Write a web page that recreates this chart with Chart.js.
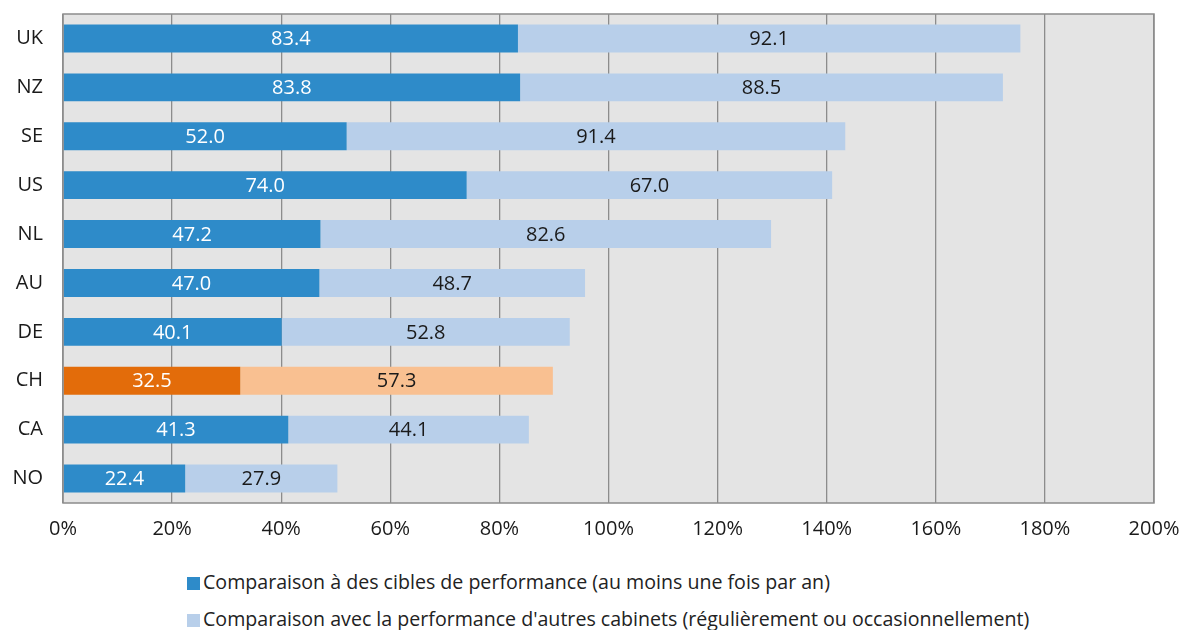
<!DOCTYPE html>
<html>
<head>
<meta charset="utf-8">
<script src="https://cdn.jsdelivr.net/npm/chart.js@4/dist/chart.umd.min.js"></script>
<style>
  body { margin: 0; background: #fff; font-family: "Open Sans", sans-serif; }
  #wrap { position: relative; width: 1182px; height: 560px; }
  #legend { position: absolute; left: 187px; top: 566px; font-size: 19.6px; color: #222; }
  .item { height: 37px; line-height: 32px; white-space: nowrap; }
  .box { display: inline-block; width: 13px; height: 13px; margin-right: 3px; vertical-align: -1px; }
</style>
</head>
<body>
<div id="wrap"><canvas id="chart"></canvas></div>
<div id="legend"></div>
<script>
// Données
const pays = ['UK', 'NZ', 'SE', 'US', 'NL', 'AU', 'DE', 'CH', 'CA', 'NO'];
const ciblesPerf = [83.4, 83.8, 52.0, 74.0, 47.2, 47.0, 40.1, 32.5, 41.3, 22.4];
const autresCabinets = [92.1, 88.5, 91.4, 67.0, 82.6, 48.7, 52.8, 57.3, 44.1, 27.9];
const serieNoms = [
    'Comparaison à des cibles de performance (au moins une fois par an)',
    "Comparaison avec la performance d'autres cabinets (régulièrement ou occasionnellement)"
];
const xTicks = [0, 20, 40, 60, 80, 100, 120, 140, 160, 180, 200];

const bleu = '#2e8bc9', bleuClair = '#b8cfea';
const orange = '#e36c0a', orangeClair = '#f9c091';

// couleurs par barre (CH en orange)
const couleurs1 = pays.map(p => p === 'CH' ? orange : bleu);
const couleurs2 = pays.map(p => p === 'CH' ? orangeClair : bleuClair);

// Fond gris + cadre
const fondPlugin = {
    id: 'fond',
    beforeDraw(chart) {
        const { ctx, chartArea: a } = chart;
        ctx.save();
        ctx.fillStyle = '#e4e4e4';
        ctx.fillRect(a.left, a.top, a.right - a.left, a.bottom - a.top);
        ctx.restore();
    },
    afterDatasetsDraw(chart) {
        const { ctx, chartArea: a } = chart;
        ctx.save();
        ctx.strokeStyle = '#8c8c8c';
        ctx.lineWidth = 1.5;
        ctx.strokeRect(a.left, a.top, a.right - a.left, a.bottom - a.top);
        ctx.restore();
    }
};

// Étiquettes de valeurs au centre des segments
const etiquettesPlugin = {
    id: 'etiquettes',
    afterDatasetsDraw(chart) {
        const ctx = chart.ctx;
        ctx.save();
        ctx.font = '20px "Open Sans"';
        ctx.textAlign = 'center';
        ctx.textBaseline = 'middle';
        chart.data.datasets.forEach((ds, i) => {
            const meta = chart.getDatasetMeta(i);
            ctx.fillStyle = i === 0 ? '#ffffff' : '#1a1a1a';
            meta.data.forEach((bar, j) => {
                const x = (bar.x + bar.base) / 2;
                ctx.fillText(ds.data[j].toFixed(1), x, bar.y + 1);
            });
        });
        ctx.restore();
    }
};

new Chart(document.getElementById('chart'), {
    type: 'bar',
    data: {
        labels: pays,
        datasets: [
            { label: serieNoms[0], data: ciblesPerf, backgroundColor: couleurs1,
              categoryPercentage: 1, barPercentage: 0.57 },
            { label: serieNoms[1], data: autresCabinets, backgroundColor: couleurs2,
              categoryPercentage: 1, barPercentage: 0.57 }
        ]
    },
    options: {
        indexAxis: 'y',
        responsive: true,
        maintainAspectRatio: false,
        animation: false,
        layout: { padding: { top: 14, right: 28, left: 0, bottom: 0 } },
        plugins: {
            legend: { display: false },
            tooltip: { enabled: false }
        },
        scales: {
            x: {
                stacked: true,
                min: 0,
                max: 200,
                afterBuildTicks: scale => { scale.ticks = xTicks.map(v => ({ value: v })); },
                afterFit: scale => {
                    scale.height = 57;
                    scale.paddingLeft = 0;
                    scale.paddingRight = 0;
                },
                ticks: {
                    callback: v => v + '%',
                    color: '#1a1a1a',
                    font: { family: 'Open Sans', size: 20 },
                    padding: 14,
                    maxRotation: 0
                },
                grid: { color: '#8c8c8c', lineWidth: 1.3, drawTicks: false },
                border: { display: false }
            },
            y: {
                stacked: true,
                afterFit: scale => {
                    scale.width = 63;
                    scale.paddingTop = 0;
                    scale.paddingBottom = 0;
                },
                ticks: {
                    color: '#1a1a1a',
                    font: { family: 'Open Sans', size: 20 },
                    padding: 20
                },
                grid: { display: false, drawTicks: false },
                border: { display: false }
            }
        }
    },
    plugins: [fondPlugin, etiquettesPlugin]
});

// Légende HTML
const legende = document.getElementById('legend');
[bleu, bleuClair].forEach((c, i) => {
    const d = document.createElement('div');
    d.className = 'item';
    d.innerHTML = '<span class="box" style="background:' + c + '"></span>' + serieNoms[i];
    legende.appendChild(d);
});
</script>
</body>
</html>
